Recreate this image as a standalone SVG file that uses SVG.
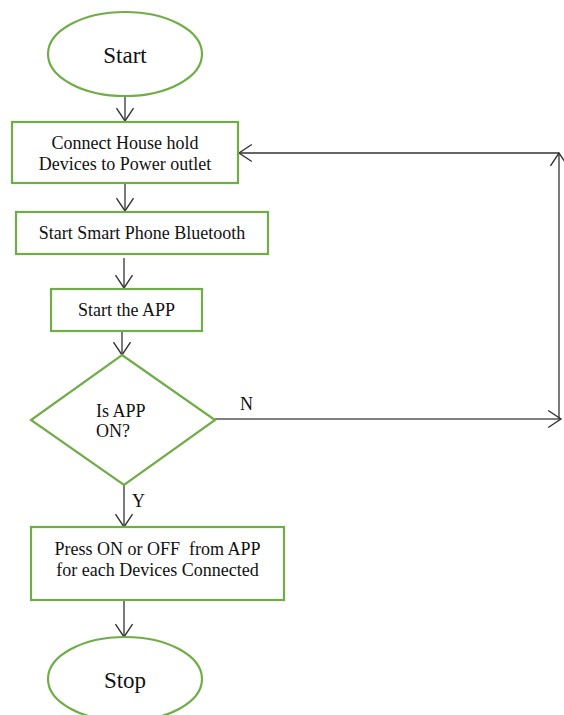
<svg xmlns="http://www.w3.org/2000/svg" width="564" height="715" viewBox="0 0 564 715">
<style>
.shape{fill:#fff;stroke:#70AD47;stroke-width:2.2}
.t{font-family:"Liberation Serif","Times New Roman",serif;font-size:18px;fill:#111;text-anchor:middle}
.tl{font-family:"Liberation Serif","Times New Roman",serif;font-size:18px;fill:#111}
.big{font-family:"Liberation Serif","Times New Roman",serif;font-size:23px;fill:#111;text-anchor:middle}
.c{fill:none;stroke:#333;stroke-width:1.3}
</style>
<defs>
<marker id="arr" markerUnits="userSpaceOnUse" markerWidth="16" markerHeight="20" viewBox="-1 -9 15 18" refX="12" refY="0" orient="auto" overflow="visible">
<path d="M0,-8 L12,0 L0,8" fill="none" stroke="#333" stroke-width="1.3"/>
</marker>
</defs>
<rect width="564" height="715" fill="#fff"/>
<g id="connectors">
<line class="c" x1="125" y1="96" x2="125" y2="121" marker-end="url(#arr)"/>
<line class="c" x1="125" y1="184" x2="125" y2="211" marker-end="url(#arr)"/>
<line class="c" x1="124" y1="258" x2="124" y2="288" marker-end="url(#arr)"/>
<line class="c" x1="122" y1="331" x2="122" y2="355" marker-end="url(#arr)"/>
<line class="c" x1="215" y1="419" x2="561" y2="419" marker-end="url(#arr)" style="stroke:#555"/>
<line class="c" x1="559" y1="419" x2="559" y2="153" marker-end="url(#arr)"/>
<line class="c" x1="559" y1="153" x2="239" y2="153" marker-end="url(#arr)"/>
<line class="c" x1="124" y1="485" x2="124" y2="527" marker-end="url(#arr)"/>
<line class="c" x1="124" y1="601" x2="124" y2="637" marker-end="url(#arr)"/>
<text class="tl" x="240" y="410">N</text>
<text class="tl" x="132" y="507">Y</text>
</g>
<g id="start">
<ellipse class="shape" cx="125" cy="54" rx="77" ry="42"/>
<text class="big" x="125" y="63">Start</text>
</g>
<g id="connect">
<rect class="shape" x="12" y="122" width="226" height="61"/>
<text class="t" x="125" y="149">Connect House hold</text>
<text class="t" x="125" y="170">Devices to Power outlet</text>
</g>
<g id="bluetooth">
<rect class="shape" x="16" y="212" width="252" height="42"/>
<text class="t" x="142" y="239">Start Smart Phone Bluetooth</text>
</g>
<g id="startapp">
<rect class="shape" x="51" y="289" width="151" height="42"/>
<text class="t" x="126.5" y="316">Start the APP</text>
</g>
<g id="decision">
<polygon class="shape" points="122,355 215,420 124,485 31,420"/>
<text class="tl" x="96" y="417">Is APP</text>
<text class="tl" x="96" y="437">ON?</text>
</g>
<g id="press">
<rect class="shape" x="31" y="527" width="253" height="73"/>
<text class="t" x="157.5" y="555" style="white-space:pre">Press ON or OFF  from APP</text>
<text class="t" x="157.5" y="576">for each Devices Connected</text>
</g>
<g id="stop">
<ellipse class="shape" cx="125" cy="679" rx="77" ry="42"/>
<text class="big" x="125" y="688">Stop</text>
</g>
</svg>
